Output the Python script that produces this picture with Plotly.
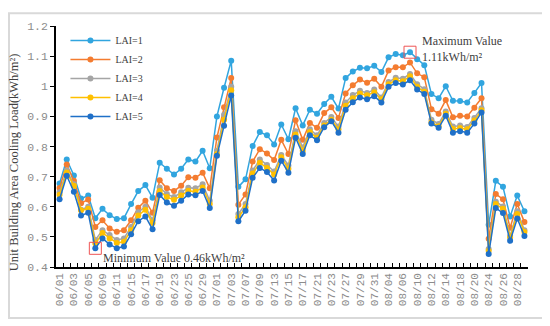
import plotly.graph_objects as go

dates = ["06/01","06/02","06/03","06/04","06/05","06/08","06/09","06/10","06/11","06/12",
         "06/15","06/16","06/17","06/18","06/19","06/22","06/23","06/24","06/25","06/26",
         "06/29","06/30","07/01","07/02","07/03","07/06","07/07","07/08","07/09","07/10",
         "07/13","07/14","07/15","07/16","07/17","07/20","07/21","07/22","07/23","07/24",
         "07/27","07/28","07/29","07/30","07/31","08/03","08/04","08/05","08/06","08/07",
         "08/10","08/11","08/12","08/13","08/14","08/17","08/18","08/19","08/20","08/21",
         "08/24","08/25","08/26","08/27","08/28","08/29"]

lai1 = [0.677,0.757,0.704,0.627,0.637,0.562,0.593,0.572,0.559,0.562,
        0.609,0.652,0.672,0.630,0.746,0.726,0.707,0.726,0.757,0.750,
        0.786,0.728,0.900,0.995,1.085,0.666,0.691,0.802,0.848,0.837,
        0.807,0.873,0.824,0.927,0.870,0.922,0.909,0.941,0.965,0.926,
        1.027,1.049,1.061,1.060,1.068,1.047,1.096,1.107,1.103,1.113,
        1.090,1.070,0.974,0.960,1.000,0.952,0.951,0.946,0.978,1.011,
        0.540,0.686,0.666,0.568,0.637,0.585]
lai2 = [0.662,0.740,0.686,0.612,0.624,0.533,0.555,0.528,0.517,0.522,
        0.555,0.597,0.620,0.580,0.688,0.661,0.652,0.670,0.698,0.696,
        0.713,0.661,0.830,0.930,1.027,0.607,0.641,0.750,0.791,0.777,
        0.755,0.822,0.775,0.887,0.822,0.878,0.862,0.911,0.930,0.895,
        0.976,1.003,1.022,1.012,1.025,0.998,1.052,1.063,1.063,1.079,
        1.043,1.030,0.924,0.909,0.954,0.897,0.902,0.900,0.929,0.960,
        0.494,0.642,0.625,0.530,0.609,0.549]
lai3 = [0.648,0.720,0.675,0.590,0.600,0.490,0.522,0.506,0.490,0.495,
        0.533,0.582,0.600,0.555,0.664,0.642,0.632,0.648,0.663,0.661,
        0.675,0.620,0.786,0.905,0.998,0.576,0.609,0.720,0.757,0.739,
        0.717,0.772,0.737,0.851,0.797,0.857,0.837,0.878,0.898,0.866,
        0.946,0.971,0.985,0.978,0.989,0.963,1.014,1.028,1.025,1.041,
        1.007,0.990,0.889,0.875,0.916,0.866,0.870,0.865,0.895,0.927,
        0.460,0.617,0.601,0.503,0.585,0.522]
lai4 = [0.640,0.714,0.670,0.588,0.593,0.478,0.513,0.495,0.480,0.484,
        0.522,0.571,0.590,0.546,0.652,0.632,0.623,0.637,0.653,0.650,
        0.664,0.609,0.775,0.889,0.987,0.565,0.598,0.710,0.746,0.729,
        0.707,0.764,0.726,0.840,0.786,0.848,0.829,0.870,0.889,0.857,
        0.935,0.960,0.976,0.970,0.980,0.957,1.007,1.020,1.017,1.033,
        0.998,0.982,0.880,0.867,0.909,0.858,0.861,0.857,0.886,0.920,
        0.454,0.609,0.593,0.498,0.576,0.516]
lai5 = [0.625,0.703,0.650,0.571,0.580,0.462,0.495,0.475,0.462,0.468,
        0.509,0.552,0.568,0.525,0.639,0.614,0.603,0.620,0.641,0.638,
        0.652,0.596,0.769,0.869,0.969,0.552,0.587,0.696,0.729,0.715,
        0.687,0.753,0.713,0.829,0.775,0.837,0.821,0.864,0.884,0.846,
        0.922,0.947,0.963,0.957,0.967,0.946,0.998,1.011,1.006,1.020,
        0.989,0.974,0.876,0.862,0.902,0.846,0.851,0.846,0.876,0.913,
        0.443,0.596,0.579,0.487,0.561,0.503]

series_names = ["LAI=1", "LAI=2", "LAI=3", "LAI=4", "LAI=5"]
series_values = [lai1, lai2, lai3, lai4, lai5]
series_colors = ["#31A5DF", "#F47C30", "#A5A5A5", "#FFC000", "#1F70C8"]

y_tick_vals = [0.4, 0.5, 0.6, 0.7, 0.8, 0.9, 1.0, 1.1, 1.2]
y_tick_text = ["0.4", "0.5", "0.6", "0.7", "0.8", "0.9", "1", "1.1", "1.2"]
x_tick_text = [d if i % 2 == 0 else "" for i, d in enumerate(dates)]

y_title = "Unit Building Area Cooling Load(kWh/m²)"
min_idx, min_series = 5, 4
max_idx, max_series = 49, 0
min_label = "Minimum Value 0.46kWh/m²"
max_label = "Maximum Value<br>1.11kWh/m²"

serif = "Liberation Serif"
mono = "Liberation Mono"

fig = go.Figure()
for name, vals, col in zip(series_names, series_values, series_colors):
    fig.add_trace(go.Scatter(
        x=dates, y=vals, name=name, mode="lines+markers",
        line=dict(color=col, width=1.5),
        marker=dict(color=col, size=6),
    ))

# red boxes around the extreme points
fig.add_trace(go.Scatter(
    x=[dates[min_idx], dates[max_idx]],
    y=[series_values[min_series][min_idx], series_values[max_series][max_idx]],
    mode="markers", showlegend=False, hoverinfo="skip",
    marker=dict(symbol="square-open", size=12, color="#EE5555", line=dict(width=1)),
))

fig.add_annotation(x=dates[min_idx], y=series_values[min_series][min_idx],
                   xref="x", yref="y", text=min_label, showarrow=False,
                   xanchor="left", yanchor="middle", xshift=6, yshift=-10,
                   font=dict(family=serif, size=12, color="#404040"))
fig.add_annotation(x=dates[max_idx], y=series_values[max_series][max_idx],
                   xref="x", yref="y", text=max_label, showarrow=False,
                   xanchor="left", yanchor="middle", xshift=10, yshift=3,
                   align="left",
                   font=dict(family=serif, size=12, color="#404040"))
fig.add_annotation(x=-0.089, y=0.435, xref="paper", yref="paper",
                   text=y_title, textangle=-90, showarrow=False,
                   xanchor="center", yanchor="middle",
                   font=dict(family=serif, size=12.5, color="#404040"))

# outer frame
fig.add_shape(type="rect", xref="paper", yref="paper",
              x0=-0.0996, x1=1.0318, y0=-0.212, y1=1.053,
              line=dict(color="#D9D9D9", width=2), fillcolor="white", layer="below")

fig.update_layout(
    width=542, height=318,
    margin=dict(l=48, r=22, t=14, b=59),
    paper_bgcolor="white",
    plot_bgcolor="white",
    showlegend=True,
    legend=dict(x=0.02, y=1.0, xanchor="left", yanchor="top",
                bgcolor="rgba(0,0,0,0)", font=dict(family=serif, size=10, color="#404040"),
                itemwidth=40, tracegroupgap=0),
    xaxis=dict(type="category", range=[-0.5, len(dates) - 0.5],
               tickmode="array", tickvals=dates, ticktext=x_tick_text,
               tickson="boundaries", ticks="inside", ticklen=4, tickwidth=1,
               tickcolor="black", tickangle=-90,
               showline=True, linecolor="black", linewidth=1.5,
               showgrid=False, zeroline=False,
               tickfont=dict(family=mono, size=11, color="#8C8C8C")),
    yaxis=dict(range=[0.4, 1.2], tickmode="array", tickvals=y_tick_vals,
               ticktext=y_tick_text, ticks="outside", ticklen=4, tickwidth=1,
               tickcolor="black", showline=True, linecolor="black", linewidth=1.5,
               showgrid=False, zeroline=False,
               tickfont=dict(family=mono, size=11.5, color="#8C8C8C")),
)

fig.write_html("out.html")
